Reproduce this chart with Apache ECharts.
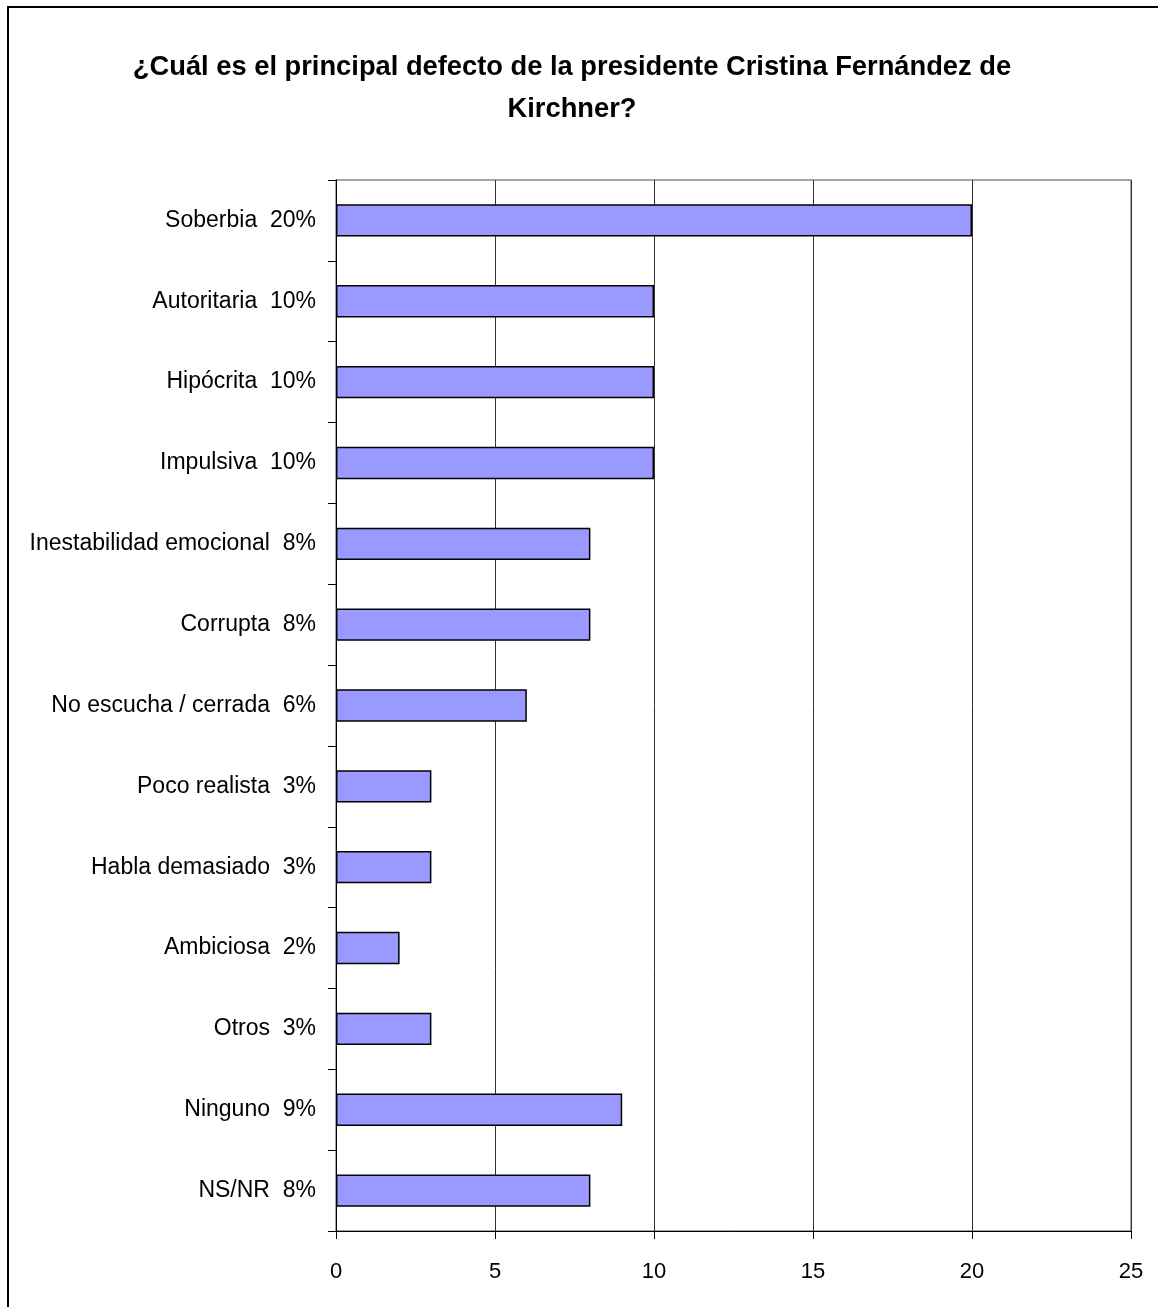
<!DOCTYPE html>
<html>
<head>
<meta charset="utf-8">
<script src="https://cdn.jsdelivr.net/npm/echarts@6/dist/echarts.min.js"></script>
<style>
html,body{margin:0;padding:0;background:#fff;}
#chart{width:1158px;height:1307px;}
</style>
</head>
<body>
<div id="chart"></div>
<script>
const titleText = '¿Cuál es el principal defecto de la presidente Cristina Fernández de\nKirchner?';
const categories = ['Soberbia','Autoritaria','Hipócrita','Impulsiva','Inestabilidad emocional','Corrupta','No escucha / cerrada','Poco realista','Habla demasiado','Ambiciosa','Otros','Ninguno','NS/NR'];
const values = [20,10,10,10,8,8,6,3,3,2,3,9,8];
const percentLabels = ['20%','10%','10%','10%','8%','8%','6%','3%','3%','2%','3%','9%','8%'];
const xTicks = [0,5,10,15,20,25];

const labels = categories.map((c,i)=>c+'  '+percentLabels[i]);
const font = '"Liberation Sans", Arial, sans-serif';

const chart = echarts.init(document.getElementById('chart'));
chart.setOption({
  animation:false,
  backgroundColor:'#fff',
  title:{
    text:titleText,
    left:567,
    textAlign:'center',
    top:41,
    textStyle:{fontFamily:font,fontWeight:'bold',fontSize:27.3,lineHeight:42,color:'#000'}
  },
  graphic:[{
    type:'rect',
    shape:{x:8,y:7,width:1170,height:1320},
    style:{fill:null,stroke:'#000',lineWidth:2},
    silent:true
  }],
  grid:{left:336,right:27,top:180,bottom:76,outerBoundsMode:'none',containLabel:false,show:true,borderColor:'#888',borderWidth:1.5,backgroundColor:'transparent'},
  xAxis:{
    type:'value',min:xTicks[0],max:xTicks[xTicks.length-1],interval:5,
    axisLine:{show:true,lineStyle:{color:'#000',width:1}},
    axisTick:{show:true,length:8,lineStyle:{color:'#000'}},
    axisLabel:{fontFamily:font,fontSize:22,color:'#000',margin:30},
    splitLine:{show:true,lineStyle:{color:'#333',width:1}}
  },
  yAxis:{
    type:'category',inverse:true,data:labels,
    axisLine:{show:true,lineStyle:{color:'#000',width:1}},
    axisTick:{show:true,length:8,alignWithLabel:false,lineStyle:{color:'#000'}},
    axisLabel:{fontFamily:font,fontSize:23,color:'#000',margin:20},
    splitLine:{show:false}
  },
  series:[{
    type:'bar',
    data:values,
    barWidth:'40%',
    itemStyle:{color:'#9999FF',borderColor:'#000',borderWidth:1.5}
  }]
});
</script>
</body>
</html>
